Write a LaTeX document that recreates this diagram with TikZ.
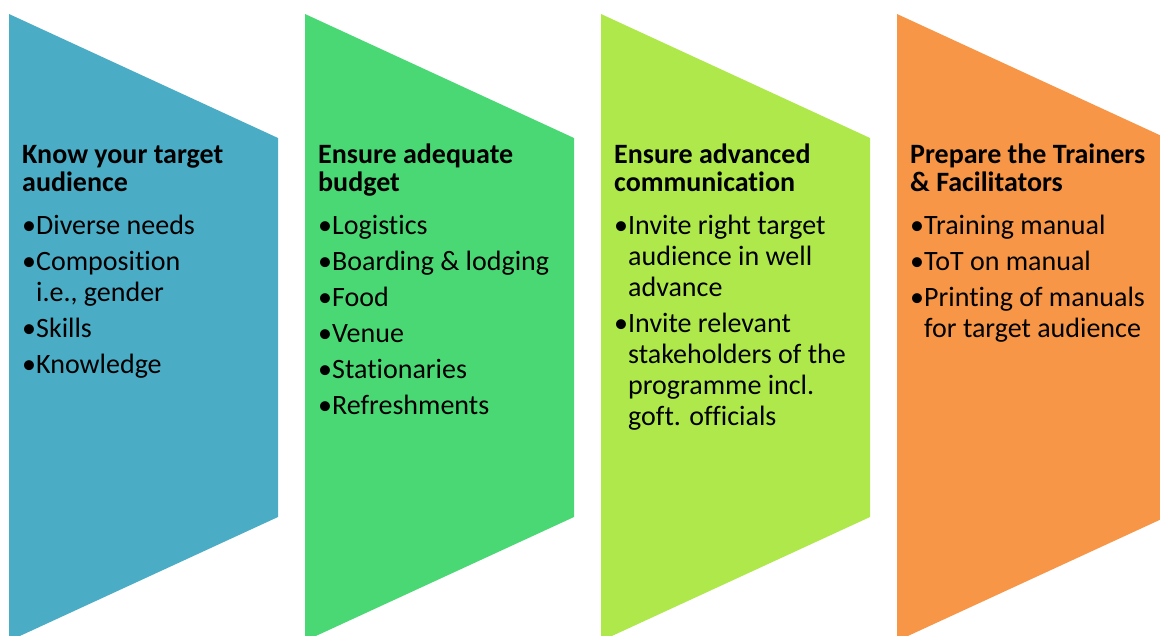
\documentclass[tikz,border=0pt]{standalone}
\usepackage{fontspec}
\setmainfont[Ligatures=NoCommon]{Carlito}
\definecolor{cblue}{HTML}{4BACC6}
\definecolor{cgreen}{HTML}{4AD874}
\definecolor{clime}{HTML}{AEE84A}
\definecolor{corange}{HTML}{F79646}
\newcommand{\bul}{\makebox[14pt][l]{•}}
\newcommand{\ind}{\hspace*{14pt}}
\tikzset{
  chevron/.style={draw=none},
  titletext/.style={anchor=base west, inner sep=0pt, align=left, font=\fontsize{28}{28}\selectfont\bfseries},
  itemtext/.style={anchor=base west, inner sep=0pt, align=left, font=\fontsize{28}{31}\selectfont},
}
\begin{document}
\begin{tikzpicture}[x=1pt,y=-1pt]
\useasboundingbox (0,0) rectangle (1160,635);
\begin{scope}
\clip (0,0) rectangle (1160,635);
\fill[cblue]   (9,14)   -- (278,138)  -- (278,517)  -- (9,641)   -- cycle;
\fill[cgreen]  (305,14) -- (574,138)  -- (574,517)  -- (305,641) -- cycle;
\fill[clime]   (601,14) -- (870,138)  -- (870,517)  -- (601,641) -- cycle;
\fill[corange] (897,14) -- (1166,138) -- (1166,517) -- (897,641) -- cycle;
\end{scope}
\node[titletext] (t1) at (22,191) {Know your target\\audience};
\node[itemtext] (b1) at (22,373) {\bul Diverse needs\\[5pt]\bul Composition\\\ind i.e., gender\\[5pt]\bul Skills\\[5pt]\bul Knowledge};
\node[titletext] (t2) at (318,191) {Ensure adequate\\budget};
\node[itemtext] (b2) at (318,414) {\bul Logistics\\[5pt]\bul Boarding \& lodging\\[5pt]\bul Food\\[5pt]\bul Venue\\[5pt]\bul Stationaries\\[5pt]\bul Refreshments};
\node[titletext] (t3) at (614,191) {Ensure advanced\\communication};
\node[itemtext] (b3) at (614,425) {\bul Invite right target\\\ind audience in well\\\ind advance\\[5pt]\bul Invite relevant\\\ind stakeholders of the\\\ind programme incl.\\\ind goft. officials};
\node[titletext] (t4) at (910,191) {Prepare the Trainers\\\& Facilitators};
\node[itemtext] (b4) at (910,337) {\bul Training manual\\[5pt]\bul ToT on manual\\[5pt]\bul Printing of manuals\\\ind for target audience};
\end{tikzpicture}
\end{document}
